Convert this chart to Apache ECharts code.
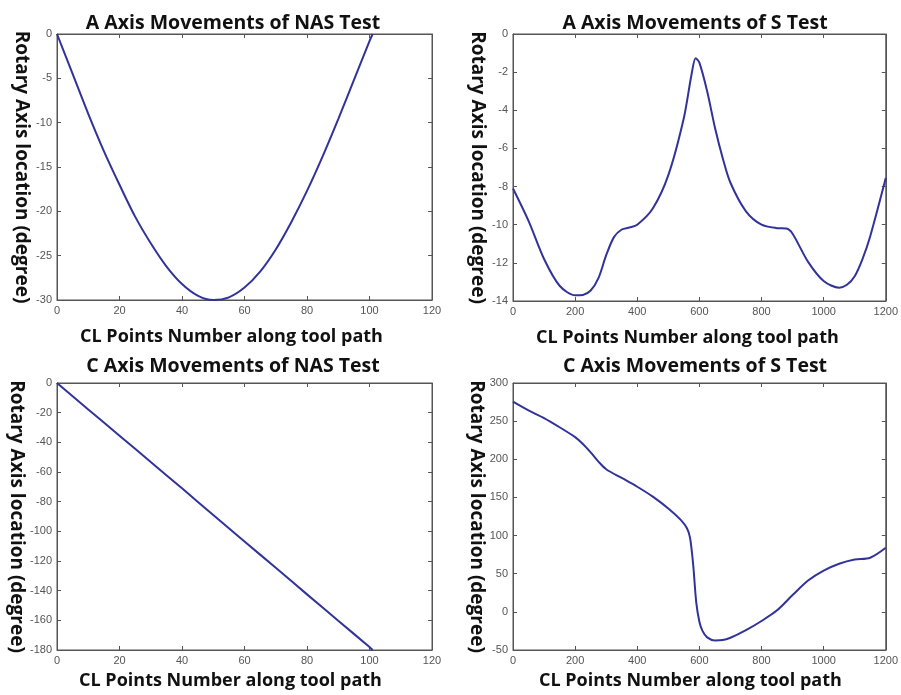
<!DOCTYPE html>
<html>
<head>
<meta charset="utf-8">
<script src="https://cdn.jsdelivr.net/npm/echarts@6/dist/echarts.min.js"></script>
<style>html,body{margin:0;padding:0;background:#fff}#c{width:901px;height:695px}</style>
</head>
<body>
<div id="c"></div>
<script>
// Panel titles and axis names
const titles = ['A Axis Movements of NAS Test', 'A Axis Movements of S Test', 'C Axis Movements of NAS Test', 'C Axis Movements of S Test'];
const xName = 'CL Points Number along tool path';
const yName = 'Rotary Axis location (degree)';

// Panel 1: A axis, NAS test
const aNasX = [0, 5, 10, 15, 20, 25, 30, 35, 40, 45, 50, 55, 60, 65, 70, 75, 80, 85, 90, 95, 100, 101];
const aNasY = [0, -4.5, -9.0, -13.2, -17.0, -20.6, -23.6, -26.2, -28.2, -29.5, -30.0, -29.7, -28.6, -26.8, -24.3, -21.2, -17.7, -13.8, -9.6, -5.2, -0.8, 0];

// Panel 2: A axis, S test
const aSX = [0, 50, 100, 150, 200, 225, 250, 275, 300, 325, 350, 375, 400, 450, 500, 550, 575, 588, 600, 625, 650, 675, 700, 750, 800, 850, 880, 900, 950, 1000, 1050, 1075, 1100, 1125, 1150, 1200];
const aSY = [-8.1, -9.8, -11.8, -13.2, -13.7, -13.68, -13.45, -12.8, -11.6, -10.65, -10.25, -10.15, -10.0, -9.15, -7.4, -4.4, -2.1, -1.27, -1.5, -3.0, -4.9, -6.5, -7.8, -9.3, -10.0, -10.18, -10.2, -10.47, -11.95, -12.95, -13.3, -13.15, -12.7, -11.8, -10.6, -7.55];

// Panel 3: C axis, NAS test
const cNasX = [0, 10, 20, 30, 40, 50, 60, 70, 80, 90, 100, 101];
const cNasY = [0, -17.8, -35.5, -53.3, -71.0, -89.0, -106.8, -124.6, -142.5, -160.3, -178.0, -180.0];

// Panel 4: C axis, S test
const cSX = [0, 50, 100, 150, 200, 225, 250, 275, 300, 350, 400, 450, 500, 540, 560, 570, 580, 590, 600, 610, 625, 650, 675, 700, 750, 800, 850, 900, 950, 1000, 1050, 1100, 1150, 1200];
const cSY = [275.5, 264, 254, 242, 229, 220, 209, 197, 187, 175.5, 164, 151, 135.5, 120.5, 109.5, 97, 62, 12, -13, -25, -33.5, -37.4, -37, -34, -24, -12, 2, 22, 41, 54, 63, 68.5, 71, 84];

const grids = [
  {left: 57, top: 34, width: 375, height: 266},
  {left: 513, top: 34, width: 375, height: 267},
  {left: 57, top: 383, width: 375, height: 267},
  {left: 513, top: 383, width: 375, height: 267}
];
const xRanges = [[0, 120, 20], [0, 1200, 200], [0, 120, 20], [0, 1200, 200]];
const yRanges = [[-30, 0, 5], [-14, 0, 2], [-180, 0, 20], [-50, 300, 50]];
const seriesData = [[aNasX, aNasY], [aSX, aSY], [cNasX, cNasY], [cSX, cSY]];
const titlePos = [[228, 8], [690, 8], [228, 351], [690, 351]];
const xNameGap = [28, 28, 22, 22];
const xNameShift = [26, 24, 28, 18];

const lineCol = '#555';
const labelStyle = {color: '#555', fontSize: 11, fontFamily: 'Liberation Sans'};
const nameFont = {color: '#111', fontWeight: 'bold', fontFamily: 'Open Sans'};

const xAxes = [], yAxes = [], series = [], titleOpts = [];
for (let i = 0; i < 4; i++) {
  const [xmin, xmax, xi] = xRanges[i];
  const [ymin, ymax, yi] = yRanges[i];
  const common = {
    axisLine: {show: true, onZero: false, lineStyle: {color: lineCol, width: 1}},
    axisTick: {show: true, inside: true, length: 4, lineStyle: {color: lineCol}},
    splitLine: {show: false}
  };
  xAxes.push(Object.assign({type: 'value', gridIndex: i, min: xmin, max: xmax, interval: xi, position: 'bottom',
    axisLabel: Object.assign({margin: 5, formatter: v => String(v)}, labelStyle),
    name: xName, nameLocation: 'middle', nameGap: xNameGap[i],
    nameTextStyle: Object.assign({fontSize: 18, verticalAlign: 'top', padding: [0, xNameShift[i], 0, 0]}, nameFont)}, common));
  xAxes.push(Object.assign({type: 'value', gridIndex: i, min: xmin, max: xmax, interval: xi, position: 'top', axisLabel: {show: false}}, common));
  yAxes.push(Object.assign({type: 'value', gridIndex: i, min: ymin, max: ymax, interval: yi, position: 'left',
    axisLabel: Object.assign({margin: 5, formatter: v => String(v)}, labelStyle),
    name: yName, nameLocation: 'middle', nameRotate: -90, nameGap: 26,
    nameTextStyle: Object.assign({fontSize: 19}, nameFont)}, common));
  yAxes.push(Object.assign({type: 'value', gridIndex: i, min: ymin, max: ymax, interval: yi, position: 'right', axisLabel: {show: false}}, common));
  const [xs, ys] = seriesData[i];
  series.push({type: 'line', xAxisIndex: 2 * i, yAxisIndex: 2 * i, data: xs.map((x, k) => [x, ys[k]]),
    showSymbol: false, smooth: 0.3, lineStyle: {color: '#32339a', width: 2}, silent: true, animation: false});
  titleOpts.push({text: titles[i], left: titlePos[i][0], top: titlePos[i][1], textAlign: 'center',
    textStyle: Object.assign({fontSize: 19.5}, nameFont)});
}

const chart = echarts.init(document.getElementById('c'), null, {renderer: 'canvas'});
chart.setOption({
  backgroundColor: '#fff',
  animation: false,
  title: titleOpts,
  grid: grids.map(g => Object.assign({show: true, borderColor: lineCol, borderWidth: 1, containLabel: false}, g)),
  xAxis: xAxes,
  yAxis: yAxes,
  series: series
});
</script>
</body>
</html>
